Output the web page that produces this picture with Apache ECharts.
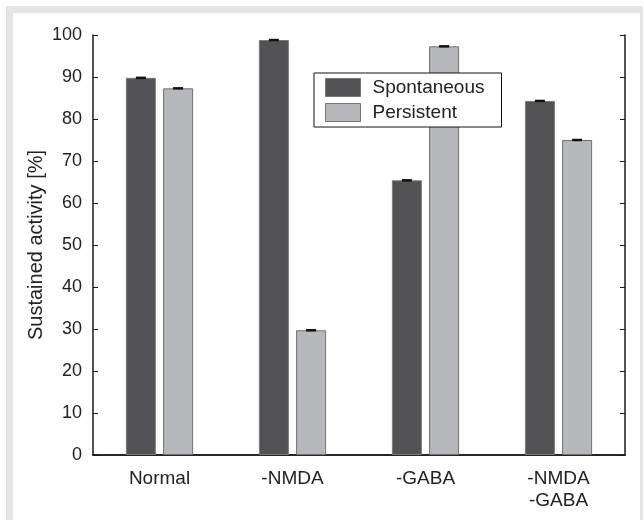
<!DOCTYPE html>
<html><head><meta charset="utf-8">
<script src="https://cdn.jsdelivr.net/npm/echarts@6/dist/echarts.min.js"></script>
<style>html,body{margin:0;padding:0;background:#fff}#c{width:643px;height:520px}</style>
</head><body><div id="c"></div>
<script>
const categories = ['Normal', '-NMDA', '-GABA', '-NMDA\n-GABA'];
const spontaneous = [89.8, 98.8, 65.4, 84.3];
const persistent = [87.3, 29.7, 97.3, 75.0];
const spontaneousErr = [0.25, 0.25, 0.25, 0.25];
const persistentErr = [0.3, 0.3, 0.25, 0.25];
const yTicks = [0, 10, 20, 30, 40, 50, 60, 70, 80, 90, 100];

const BAR_W = 30, BAR_GAP = 0.24;
const FONT = 'Liberation Sans, Arial, sans-serif';

function errSeries(name, vals, errs, side) {
  return {
    type: 'custom', name: name + ' err', silent: true, z: 5,
    data: vals.map((v, i) => [i, v, errs[i]]),
    renderItem: function (params, api) {
      const i = api.value(0), v = api.value(1), e = api.value(2);
      const off = side * BAR_W * (1 + BAR_GAP) / 2;
      const top = api.coord([i, v + e]);
      const bot = api.coord([i, v - e]);
      const h = Math.max(2.5, bot[1] - top[1]);
      const cx = top[0] + off;
      return { type: 'rect', shape: { x: cx - 5, y: (top[1] + bot[1]) / 2 - h / 2, width: 10, height: h },
               style: { fill: '#111' } };
    }
  };
}

const chart = echarts.init(document.getElementById('c'), null, { renderer: 'canvas' });
chart.setOption({
  animation: false,
  backgroundColor: '#fff',
  graphic: [
    { type: 'rect', shape: { x: 6, y: 6, width: 637, height: 7 }, style: { fill: '#e5e5e5' }, z: -10 },
    { type: 'rect', shape: { x: 6, y: 6, width: 7, height: 514 }, style: { fill: '#e5e5e5' }, z: -10 },
    { type: 'rect', shape: { x: 640, y: 6, width: 3, height: 514 }, style: { fill: '#e5e5e5' }, z: -10 }
  ],
  grid: { left: 93, right: 18, top: 35, bottom: 65 },
  legend: {
    orient: 'vertical', left: 314, top: 73,
    data: ['Spontaneous', 'Persistent'],
    itemWidth: 35, itemHeight: 18, itemGap: 6,
    padding: [5, 17, 5, 11],
    borderColor: '#111', borderWidth: 1, backgroundColor: '#fff',
    icon: 'rect',
    textStyle: { fontFamily: FONT, fontSize: 19, color: '#222', padding: [0, 0, 0, 7] },
    itemStyle: { borderColor: '#777', borderWidth: 1 }
  },
  xAxis: [
    {
      type: 'category', data: categories, position: 'bottom',
      axisLine: { lineStyle: { color: '#1a1a1a', width: 1.5 } },
      axisTick: { inside: true, alignWithLabel: true, length: 5, lineStyle: { color: '#1a1a1a', width: 1 } },
      axisLabel: { fontFamily: FONT, fontSize: 19, color: '#222', margin: 13, lineHeight: 22 }
    },
    {
      type: 'category', data: categories, position: 'top',
      axisLine: { show: true, lineStyle: { color: '#1a1a1a', width: 1.5 } },
      axisTick: { inside: true, alignWithLabel: true, length: 5, lineStyle: { color: '#1a1a1a', width: 1 } },
      axisLabel: { show: false }
    }
  ],
  yAxis: [
    {
      type: 'value', min: 0, max: 100, interval: 10, position: 'left',
      name: 'Sustained activity [%]', nameLocation: 'middle', nameGap: 47, nameMoveOverlap: false,
      nameTextStyle: { fontFamily: FONT, fontSize: 20, color: '#222' },
      splitLine: { show: false },
      axisLine: { show: true, lineStyle: { color: '#1a1a1a', width: 1.5 } },
      axisTick: { show: true, inside: true, length: 5, lineStyle: { color: '#1a1a1a', width: 1 } },
      axisLabel: { fontFamily: FONT, fontSize: 18, color: '#222', margin: 11,
                   formatter: v => yTicks.includes(v) ? String(v) : '' }
    },
    {
      type: 'value', min: 0, max: 100, interval: 10, position: 'right',
      splitLine: { show: false },
      axisLine: { show: true, lineStyle: { color: '#1a1a1a', width: 1.5 } },
      axisTick: { show: true, inside: true, length: 5, lineStyle: { color: '#1a1a1a', width: 1 } },
      axisLabel: { show: false }
    }
  ],
  series: [
    { name: 'Spontaneous', type: 'bar', data: spontaneous, barWidth: BAR_W, barGap: (BAR_GAP * 100) + '%',
      itemStyle: { color: '#525254', borderColor: '#7a7a7a', borderWidth: 1 } },
    { name: 'Persistent', type: 'bar', data: persistent, barWidth: BAR_W,
      itemStyle: { color: '#b7b8bb', borderColor: '#727272', borderWidth: 1 } },
    errSeries('Spontaneous', spontaneous, spontaneousErr, -1),
    errSeries('Persistent', persistent, persistentErr, 1)
  ]
});
</script></body></html>
